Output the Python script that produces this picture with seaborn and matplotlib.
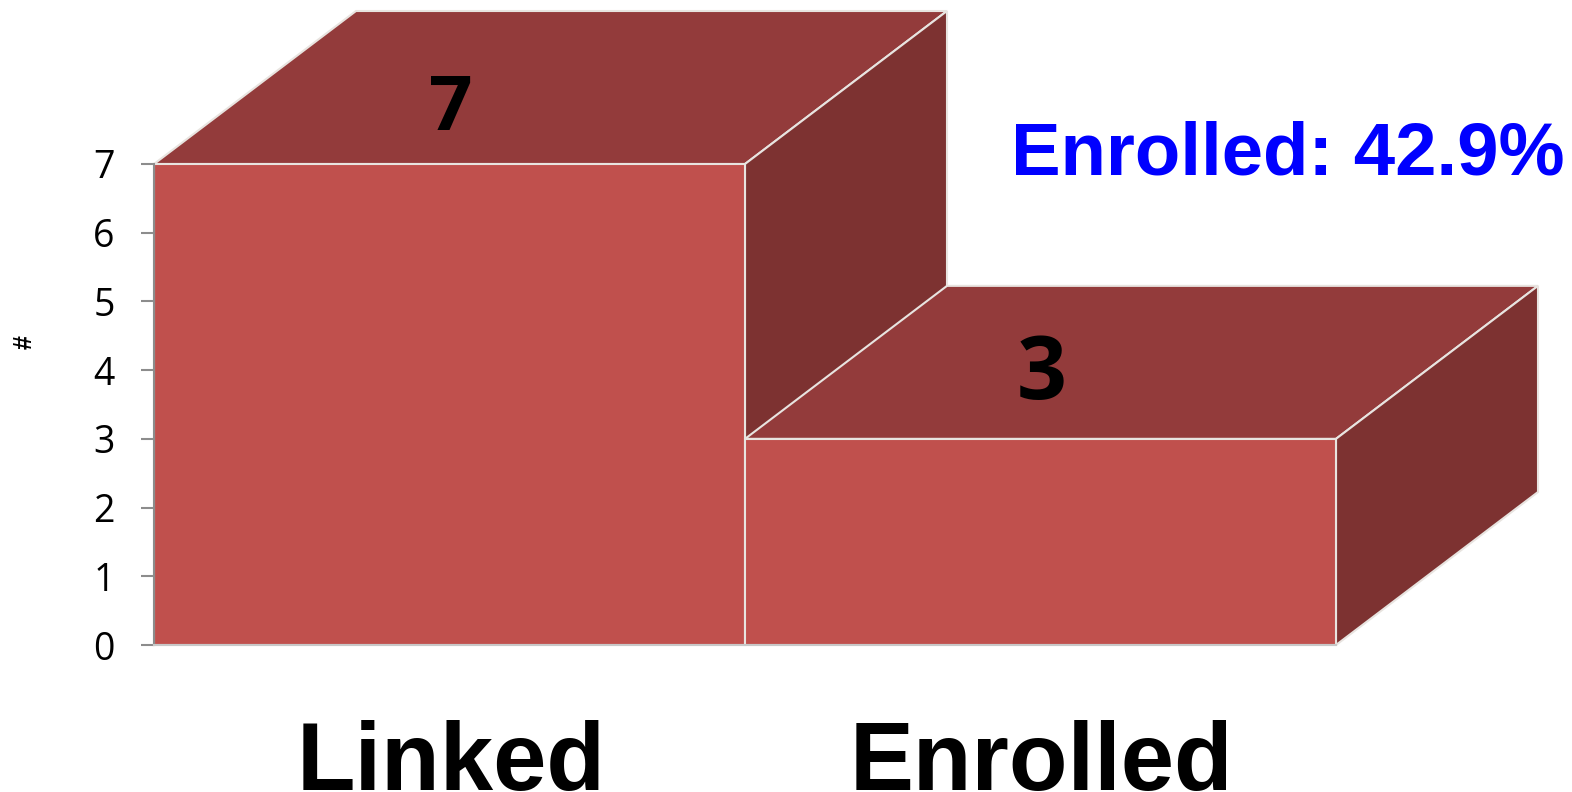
import matplotlib
matplotlib.use("Agg")
import matplotlib.pyplot as plt
from matplotlib.patches import Polygon
import seaborn as sns
import pandas as pd

categories = ["Linked", "Enrolled"]
counts = [7, 3]
y_ticks = [0, 1, 2, 3, 4, 5, 6, 7]
note = "Enrolled: 42.9%"

front = "#C0504D"
top = "#933B3B"
side = "#7D3231"
edge = "#E8E4E0"
W, H = 1572, 792

sns.set_theme(style="white")
plt.rcParams["font.family"] = ["Liberation Sans", "DejaVu Sans"]

fig = plt.figure(figsize=(W / 100, H / 100), dpi=100)
# axes box follows the front faces of the bars
ax = fig.add_axes([154 / W, 1 - 645 / H, 1182 / W, 481 / H])
df = pd.DataFrame({"group": categories, "count": counts})
sns.barplot(data=df, x="group", y="count", color=front, saturation=1, width=1,
            edgecolor=edge, linewidth=1.5, ax=ax, zorder=3, clip_on=False)
ax.set_xlim(-0.5, 1.5)
ax.set_ylim(0, 7)
ax.set_yticks(y_ticks)
ax.set_xticks([])
ax.set_xlabel("")
ax.set_ylabel("")
ax.tick_params(axis="y", left=True, length=9.4, width=1.5, color="#8c8c8c", pad=19, labelsize=27)
for t in ax.get_yticklabels():
    t.set_family(["Open Sans", "DejaVu Sans"])
    t.set_color("black")
sns.despine(ax=ax, top=True, right=True)
ax.spines["left"].set_color("#8c8c8c")
ax.spines["left"].set_linewidth(1.5)
ax.spines["left"].set_zorder(4)
ax.spines["bottom"].set_color("#c8c8c8")
ax.spines["bottom"].set_linewidth(1.5)
ax.spines["bottom"].set_zorder(4)

# depth of the 3d boxes, in data units per axis
dx = 202 / 591
dy = 153 / (481 / 7)
value_sizes = [55, 63]
value_rise = [0.78, 0.91]
for i, v in enumerate(counts):
    l, r = i - 0.5, i + 0.5
    ax.add_patch(Polygon([(l, v), (r, v), (r + dx, v + dy), (l + dx, v + dy)],
                         facecolor=top, edgecolor=edge, linewidth=1.5, clip_on=False, zorder=2))
    ax.add_patch(Polygon([(r, 0), (r, v), (r + dx, v + dy), (r + dx, dy)],
                         facecolor=side, edgecolor=edge, linewidth=1.5, clip_on=False, zorder=2))
    ax.text(i + 0.002, v + value_rise[i], str(v), ha="center", va="center", fontsize=value_sizes[i],
            fontweight="bold", family=["Open Sans", "DejaVu Sans"], color="black", zorder=5)
    ax.text(i + 0.002, -1.745, categories[i], ha="center", va="center", fontsize=69,
            fontweight="bold", color="black", clip_on=False)

fig.text(1288 / W, 1 - 155 / H, note, ha="center", va="center", fontsize=53.6,
         fontweight="bold", color="#0000FF")
fig.text(25 / W, 1 - 342 / H, "#", rotation=90, ha="center", va="center", fontsize=18,
         fontweight="bold", color="black")

fig.savefig("out.png", dpi=100)
